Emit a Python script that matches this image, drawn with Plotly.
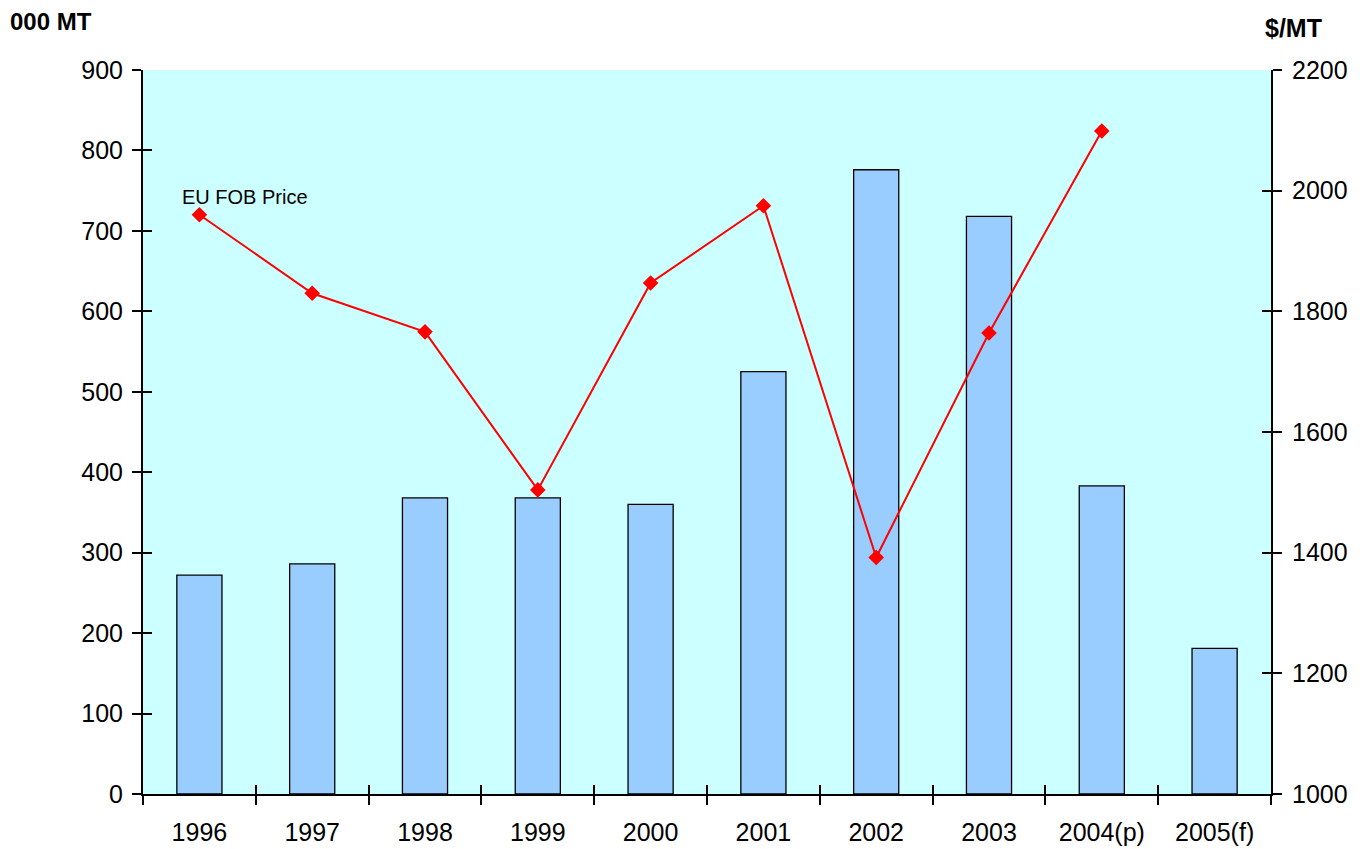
import plotly.graph_objects as go

years = ["1996", "1997", "1998", "1999", "2000", "2001", "2002", "2003", "2004(p)", "2005(f)"]
volume_000mt = [272, 286, 368, 368, 360, 525, 776, 718, 383, 181]
eu_fob_price = [1960, 1830, 1766, 1504, 1847, 1975, 1392, 1764, 2099, None]

FONT = "Liberation Sans, Arial, sans-serif"
TICKFONT = dict(family=FONT, size=25, color="black")

fig = go.Figure()
fig.add_trace(go.Bar(
    x=years, y=volume_000mt, xaxis="x", yaxis="y",
    marker=dict(color="#99CCFF", line=dict(color="black", width=1.3)),
    width=0.4, showlegend=False, hoverinfo="x+y"))
fig.add_trace(go.Scatter(
    x=years, y=eu_fob_price, xaxis="x", yaxis="y2", mode="lines+markers",
    line=dict(color="#FF0000", width=2),
    marker=dict(symbol="diamond", size=12, color="#FF0000"),
    showlegend=False, connectgaps=False))
# helper traces so the overlay axes (inside half of crossing ticks) are drawn
fig.add_trace(go.Scatter(x=years, y=[None] * len(years), xaxis="x2", yaxis="y3",
                         showlegend=False, hoverinfo="skip"))
fig.add_trace(go.Scatter(x=years, y=[None] * len(years), xaxis="x2", yaxis="y4",
                         showlegend=False, hoverinfo="skip"))

common_x = dict(type="category", categoryorder="array", categoryarray=years,
                range=[-0.5, len(years) - 0.5], tickson="boundaries",
                ticklen=9, tickwidth=2, tickcolor="black", showgrid=False,
                zeroline=False, automargin=False)
fig.update_layout(
    width=1357, height=841,
    margin=dict(l=135, r=94, t=62, b=55),
    paper_bgcolor="white", plot_bgcolor="#CCFFFF",
    bargap=0.6,
    xaxis=dict(**common_x, ticks="outside", showline=True, linecolor="black",
               linewidth=2, tickfont=TICKFONT, ticklabelstandoff=15),
    xaxis2=dict(**common_x, ticks="inside", overlaying="x", anchor="y",
                showticklabels=False, showline=False),
    yaxis=dict(range=[0, 900], dtick=100, ticks="outside", ticklen=9, tickwidth=2,
               tickcolor="black", showline=True, linecolor="black", linewidth=2,
               showgrid=False, zeroline=False, tickfont=TICKFONT,
               ticklabelstandoff=4, automargin=False),
    yaxis2=dict(range=[1000, 2200], dtick=200, ticks="outside", ticklen=9, tickwidth=2,
                tickcolor="black", showline=True, linecolor="black", linewidth=2,
                showgrid=False, zeroline=False, tickfont=TICKFONT, side="right",
                overlaying="y", anchor="x", ticklabelstandoff=5, automargin=False),
    yaxis3=dict(range=[0, 900], dtick=100, ticks="inside", ticklen=9, tickwidth=2,
                tickcolor="black", showticklabels=False, showgrid=False,
                zeroline=False, overlaying="y", anchor="x", side="left",
                automargin=False),
    yaxis4=dict(range=[1000, 2200], dtick=200, ticks="inside", ticklen=9, tickwidth=2,
                tickcolor="black", showticklabels=False, showgrid=False,
                zeroline=False, overlaying="y", anchor="x", side="right",
                automargin=False),
    annotations=[
        dict(text="<b>000 MT</b>", xref="paper", yref="paper", x=-0.119, y=1.067,
             xanchor="left", yanchor="middle", showarrow=False, borderpad=0,
             font=dict(family=FONT, size=24, color="black")),
        dict(text="<b>$/MT</b>", xref="paper", yref="paper", x=0.993, y=1.058,
             xanchor="left", yanchor="middle", showarrow=False,
             font=dict(family=FONT, size=25, color="black")),
        dict(text="EU FOB Price", xref="paper", yref="paper", x=0.0328, y=0.8246,
             xanchor="left", yanchor="middle", showarrow=False,
             font=dict(family=FONT, size=20, color="black")),
    ],
)

fig.write_html("out.html")
